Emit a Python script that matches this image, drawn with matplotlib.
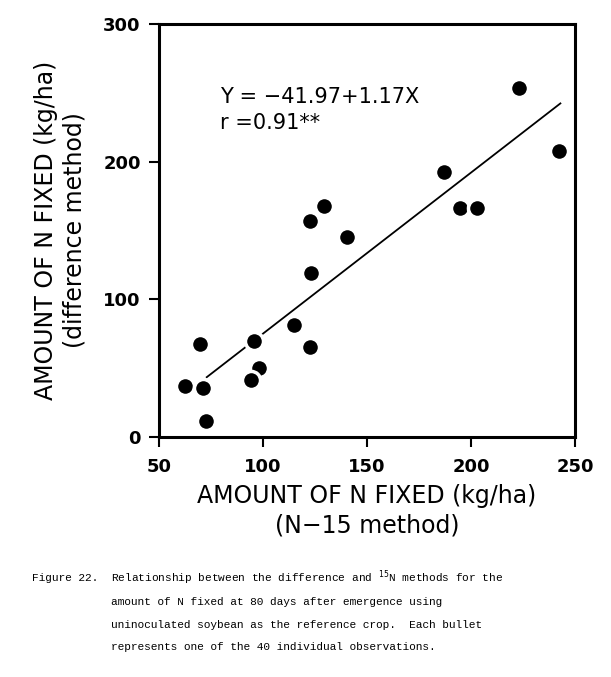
import numpy as np
import matplotlib
matplotlib.use("Agg")
import matplotlib.pyplot as plt

# N fixed at 80 days, N-15 method (x) vs difference method (y)
n15 = [223.1, 242.3, 187.0, 194.7, 202.9, 129.3, 122.6, 140.4, 123.1,
       114.9, 95.7, 122.6, 69.7, 98.0, 94.2, 62.5, 71.2, 72.6]
diff = [253.8, 207.5, 192.3, 166.3, 166.3, 167.7, 157.0, 145.3, 119.3,
        81.7, 70.1, 65.1, 67.2, 49.9, 41.2, 36.9, 35.4, 11.6]

a, b = -41.97, 1.17
fit_x = np.array([73.0, 243.0])

xticks = [50, 100, 150, 200, 250]
yticks = [0, 100, 200, 300]

fig = plt.figure(figsize=(6.11, 6.77), dpi=100)
ax = fig.add_axes([0.260, 0.3545, 0.681, 0.610])

ax.plot(fit_x, a + b * fit_x, color="black", lw=1.3, zorder=2)
ax.plot(n15, diff, "o", ms=13, mfc="black", mec="white", mew=2.5, zorder=3)

ax.set_xlim(50, 250)
ax.set_ylim(0, 300)
ax.set_xticks(xticks)
ax.set_yticks(yticks)
ax.tick_params(direction="out", length=7, width=1.5, labelsize=13)
ax.tick_params(axis="x", pad=8)
ax.tick_params(axis="y", pad=6)
for lab in ax.get_xticklabels() + ax.get_yticklabels():
    lab.set_fontweight("bold")
for s in ax.spines.values():
    s.set_linewidth(2.2)

ax.text(0.147, 0.823, "Y = \u221241.97+1.17X", transform=ax.transAxes,
        fontsize=15, ha="left", va="center")
ax.text(0.147, 0.760, "r =0.91**", transform=ax.transAxes,
        fontsize=15, ha="left", va="center")

ax.set_xlabel("AMOUNT OF N FIXED (kg/ha)\n(N\u221215 method)", fontsize=17,
              linespacing=1.28, labelpad=6)
ax.set_ylabel("AMOUNT OF N FIXED (kg/ha)\n(difference method)", fontsize=17,
              linespacing=1.25, labelpad=12)

cap = {"family": "Liberation Mono", "fontsize": 8}
fig.text(32 / 611, 1 - 578 / 677, "Figure 22.", va="center", **cap)
fig.text(111 / 611, 1 - 578 / 677,
         "Relationship between the difference and $^{15}$N methods for the",
         va="center", **cap)
fig.text(111 / 611, 1 - 602 / 677,
         "amount of N fixed at 80 days after emergence using", va="center", **cap)
fig.text(111 / 611, 1 - 625 / 677,
         "uninoculated soybean as the reference crop.  Each bullet",
         va="center", **cap)
fig.text(111 / 611, 1 - 647 / 677,
         "represents one of the 40 individual observations.", va="center", **cap)

fig.savefig("out.png", dpi=100)
